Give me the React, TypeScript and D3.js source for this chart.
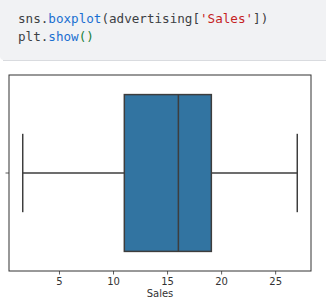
import React from "react";
import * as d3 from "d3";

// Five-number summary of advertising['Sales']
const salesMin = 1.6;
const salesQ1 = 11.0;
const salesMedian = 16.0;
const salesQ3 = 19.05;
const salesMax = 27.0;

const xTicks = [5, 10, 15, 20, 25];
const xLabel = "Sales";

const W = 326;
const H = 304;
const plot = { left: 9, right: 311, top: 75, bottom: 271 };

export default function App() {
  const span = salesMax - salesMin;
  const x = d3
    .scaleLinear()
    .domain([salesMin - span * 0.05, salesMax + span * 0.05])
    .range([plot.left, plot.right]);
  const y = d3.scaleLinear().domain([-0.5, 0.5]).range([plot.top, plot.bottom]);

  const boxHalf = 0.4;
  const capHalf = 0.2;
  const lineColor = "#3d3d3d";

  const mono = "'DejaVu Sans Mono', 'Liberation Mono', monospace";

  return (
    <svg
      width={W}
      height={H}
      style={{ position: "absolute", left: 0, top: 0, background: "#fff" }}
    >
      {/* code cell */}
      <path
        d={`M0,0 H${W} V60 H4 Q0,60 0,56 Z`}
        fill="#f1f2f4"
      />
      <line x1={3} x2={W} y1={60.5} y2={60.5} stroke="#d9dbdf" strokeWidth={1} />
      <text x={18} y={23} fontFamily={mono} fontSize={12.6} fill="#3c4043">
        <tspan>sns.</tspan>
        <tspan fill="#1a6fd1">boxplot</tspan>
        <tspan fill="#3c4043">(advertising[</tspan>
        <tspan fill="#c5221f">'Sales'</tspan>
        <tspan fill="#3c4043">])</tspan>
      </text>
      <text x={18} y={41} fontFamily={mono} fontSize={12.6} fill="#3c4043">
        <tspan>plt.</tspan>
        <tspan fill="#1a6fd1">show</tspan>
        <tspan fill="#188038">()</tspan>
      </text>

      {/* whiskers */}
      <g stroke={lineColor} strokeWidth={1.5} fill="none">
        <line x1={x(salesMin)} x2={x(salesQ1)} y1={y(0)} y2={y(0)} />
        <line x1={x(salesQ3)} x2={x(salesMax)} y1={y(0)} y2={y(0)} />
        <line x1={x(salesMin)} x2={x(salesMin)} y1={y(-capHalf)} y2={y(capHalf)} />
        <line x1={x(salesMax)} x2={x(salesMax)} y1={y(-capHalf)} y2={y(capHalf)} />
      </g>

      {/* box */}
      <rect
        x={x(salesQ1)}
        y={y(-boxHalf)}
        width={x(salesQ3) - x(salesQ1)}
        height={y(boxHalf) - y(-boxHalf)}
        fill="#3274a1"
        stroke={lineColor}
        strokeWidth={1.5}
      />
      <line
        x1={x(salesMedian)}
        x2={x(salesMedian)}
        y1={y(-boxHalf)}
        y2={y(boxHalf)}
        stroke={lineColor}
        strokeWidth={1.5}
      />

      {/* axes frame */}
      <rect
        x={plot.left}
        y={plot.top}
        width={plot.right - plot.left}
        height={plot.bottom - plot.top}
        fill="none"
        stroke="#333"
        strokeWidth={1}
      />

      {/* y tick */}
      <line x1={plot.left - 3.5} x2={plot.left} y1={y(0)} y2={y(0)} stroke="#333" strokeWidth={0.8} />

      {/* x ticks */}
      {xTicks.map((t) => (
        <g key={t} transform={`translate(${x(t)},0)`}>
          <line y1={plot.bottom} y2={plot.bottom + 3.5} stroke="#333" strokeWidth={0.8} />
          <text
            y={plot.bottom + 13.5}
            textAnchor="middle"
            fontFamily="'DejaVu Sans', sans-serif"
            fontSize={10}
            fill="#333"
          >
            {t}
          </text>
        </g>
      ))}
      <text
        x={(plot.left + plot.right) / 2}
        y={297}
        textAnchor="middle"
        fontFamily="'DejaVu Sans', sans-serif"
        fontSize={10}
        fill="#333"
      >
        {xLabel}
      </text>
    </svg>
  );
}
